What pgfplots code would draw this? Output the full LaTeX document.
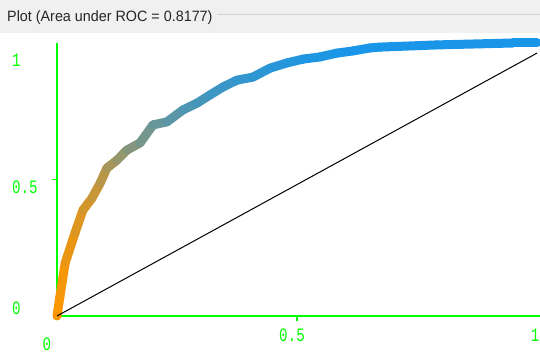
\documentclass[border=0pt]{standalone}
\usepackage{fontspec}
\setmainfont{Liberation Sans}
\newfontfamily\tickfont{Liberation Mono}
\usepackage{pgfplots}
\pgfplotsset{compat=1.18}
\usepackage{pgfplotstable}
\definecolor{wgreen}{RGB}{0,255,0}
\definecolor{barbg}{RGB}{240,240,240}
\definecolor{barline}{RGB}{210,210,210}
\newcommand\tl[1]{\scalebox{0.75}[1]{#1}}
\pgfplotstableread{
x y t
0 0 0
0.006 0.070 0.02
0.017 0.194 0.06
0.0375 0.304 0.12
0.054 0.388 0.17
0.073 0.432 0.21
0.090 0.487 0.27
0.104 0.542 0.34
0.125 0.571 0.42
0.146 0.608 0.50
0.173 0.634 0.57
0.200 0.700 0.63
0.229 0.711 0.68
0.2625 0.755 0.74
0.292 0.780 0.78
0.319 0.810 0.82
0.346 0.839 0.85
0.375 0.864 0.87
0.408 0.875 0.89
0.444 0.908 0.92
0.479 0.927 0.94
0.5125 0.941 0.96
0.548 0.949 0.97
0.583 0.963 0.98
0.617 0.971 0.99
0.652 0.982 1
0.673 0.985 1
0.792 0.993 1
0.95 1.0 1
1 1 1
}\roc
\begin{document}
\begin{tikzpicture}[x=1bp,y=1bp]
\useasboundingbox (-57,-40) rectangle (483,316);
\fill[white] (-57,-40) rectangle (483,316);
\fill[barbg] (-57,283) rectangle (483,316);
\draw[barline, line width=1bp] (160,301) -- (483,301);
\node[anchor=base west, inner sep=0pt, font=\fontsize{15}{18}\selectfont, xscale=0.96, text=black!85] at (-50,295) {Plot (Area under ROC = 0.8177)};
\begin{axis}[
  at={(0,0)}, anchor=south west,
  scale only axis, width=480bp, height=273bp,
  xmin=0, xmax=1, ymin=0, ymax=1,
  axis x line=bottom, axis y line=left,
  axis line style={wgreen, line width=1.5bp, -},
  x axis line style={shorten >=-3bp},
  xtick={0,0.5,1}, ytick={0,0.5,1},
  xticklabels={\tl{0},\tl{0.5},\tl{1}},
  yticklabels={\tl{0},\tl{0.5},\tl{1}},
  major tick length=0pt,
  extra x ticks={0.5}, extra y ticks={0.5},
  extra x tick labels={}, extra y tick labels={},
  extra tick style={major tick length=5bp, tick align=outside, tick style={wgreen, line width=1.5bp}},
  tick label style={font=\tickfont\fontsize{19}{20}\selectfont, text=wgreen, inner sep=0pt},
  xticklabel style={anchor=center, xshift={-10bp*(\ticknum==0)-5bp*(\ticknum==1)-2bp*(\ticknum==2)}, yshift={-28bp*(\ticknum==0)-19bp*(\ticknum==1)-19bp*(\ticknum==2)}},
  yticklabel style={anchor=west, xshift=-45bp, yshift={8bp*(\ticknum==0)-7.5bp*(\ticknum==1)-17bp*(\ticknum==2)}},
  clip=false,
  colormap={ob}{rgb255=(255,150,0) rgb255=(25,150,232)},
]
\addplot[mesh, line width=9bp, line cap=round, point meta=explicit, point meta min=0, point meta max=1] table[x=x, y=y, meta=t] {\roc};
\addplot[black, line width=1bp] coordinates {(0,0) (1,0.963)};
\end{axis}
\end{tikzpicture}
\end{document}
